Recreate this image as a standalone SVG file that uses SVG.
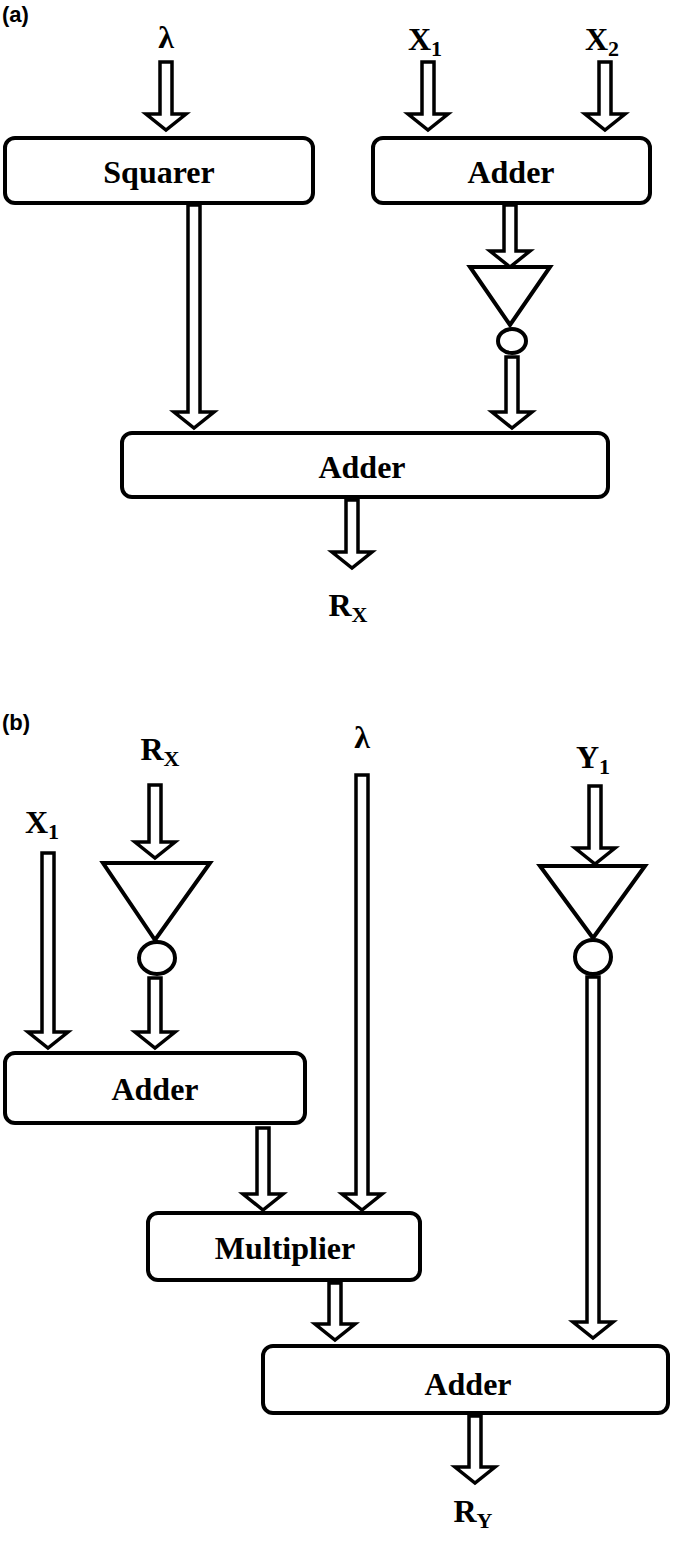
<svg xmlns="http://www.w3.org/2000/svg" width="685" height="1541" viewBox="0 0 685 1541">
<style>
.box{fill:#fff;stroke:#000;stroke-width:4}
.ar{fill:#fff;stroke:#000;stroke-width:3.5;stroke-linejoin:miter}
.t{font-family:"Liberation Serif",serif;font-weight:bold;font-size:32px;text-anchor:middle;fill:#000}
.s{font-size:22px}
.p{font-family:"Liberation Sans",sans-serif;font-weight:bold;font-size:22px;fill:#000}
</style>
<rect width="685" height="1541" fill="#fff"/>
<text class="p" x="2" y="22">(a)</text>
<text class="p" x="2" y="730">(b)</text>
<g id="labels">
<text class="t" x="166" y="48">λ</text>
<text class="t" x="425" y="50">X<tspan class="s" dy="6">1</tspan></text>
<text class="t" x="602" y="50">X<tspan class="s" dy="6">2</tspan></text>
<text class="t" x="348" y="616">R<tspan class="s" dy="6">X</tspan></text>
<text class="t" x="160" y="760">R<tspan class="s" dy="6">X</tspan></text>
<text class="t" x="362" y="748">λ</text>
<text class="t" x="593" y="768">Y<tspan class="s" dy="6">1</tspan></text>
<text class="t" x="42" y="833">X<tspan class="s" dy="6">1</tspan></text>
<text class="t" x="473" y="1522">R<tspan class="s" dy="6">Y</tspan></text>
</g>
<g id="connectors">
<path class="ar" d="M160,62H172V114H186L166,130L146,114H160Z"/>
<path class="ar" d="M422,62H434V114H448L428,130L408,114H422Z"/>
<path class="ar" d="M599,62H611V114H625L605,130L585,114H599Z"/>
<path class="ar" d="M188,205H200V412H214L194,428L174,412H188Z"/>
<path class="ar" d="M504,205H516V251H530L510,267L490,251H504Z"/>
<path class="ar" d="M506,357H518V412H532L512,428L492,412H506Z"/>
<path class="ar" d="M346,500H358V552H372L352,568L332,552H346Z"/>
<path class="ar" d="M149,785H161V842H175L155,858L135,842H149Z"/>
<path class="ar" d="M42,853H54V1032H68L48,1048L28,1032H42Z"/>
<path class="ar" d="M149,978H161V1032H175L155,1048L135,1032H149Z"/>
<path class="ar" d="M257,1128H269V1194H283L263,1210L243,1194H257Z"/>
<path class="ar" d="M356,775H368V1194H382L362,1210L342,1194H356Z"/>
<path class="ar" d="M589,786H601V848H615L595,864L575,848H589Z"/>
<path class="ar" d="M587,977H599V1322H613L593,1338L573,1322H587Z"/>
<path class="ar" d="M329,1283H341V1324H355L335,1340L315,1324H329Z"/>
<path class="ar" d="M469,1416H481V1467H495L475,1483L455,1467H469Z"/>
</g>
<g id="squarer"><rect class="box" x="5" y="138" width="308" height="65" rx="10"/><text class="t" x="159" y="183">Squarer</text></g>
<g id="adder1"><rect class="box" x="373" y="138" width="277" height="65" rx="10"/><text class="t" x="511" y="183">Adder</text></g>
<g id="not1"><path class="box" d="M470,267H550L510,325Z"/><ellipse class="box" cx="512" cy="341" rx="14" ry="12"/></g>
<g id="adder2"><rect class="box" x="122" y="433" width="486" height="64" rx="10"/><text class="t" x="362" y="478">Adder</text></g>
<g id="not2"><path class="box" d="M103,863H210L155,940Z"/><ellipse class="box" cx="157" cy="958" rx="18" ry="16"/></g>
<g id="not3"><path class="box" d="M540,866H645L593,938Z"/><ellipse class="box" cx="593" cy="957" rx="18" ry="17"/></g>
<g id="adder3"><rect class="box" x="5" y="1053" width="300" height="70" rx="10"/><text class="t" x="155" y="1100">Adder</text></g>
<g id="multiplier"><rect class="box" x="148" y="1213" width="272" height="67" rx="10"/><text class="t" x="285" y="1259">Multiplier</text></g>
<g id="adder4"><rect class="box" x="263" y="1346" width="405" height="67" rx="10"/><text class="t" x="468" y="1395">Adder</text></g>
</svg>
